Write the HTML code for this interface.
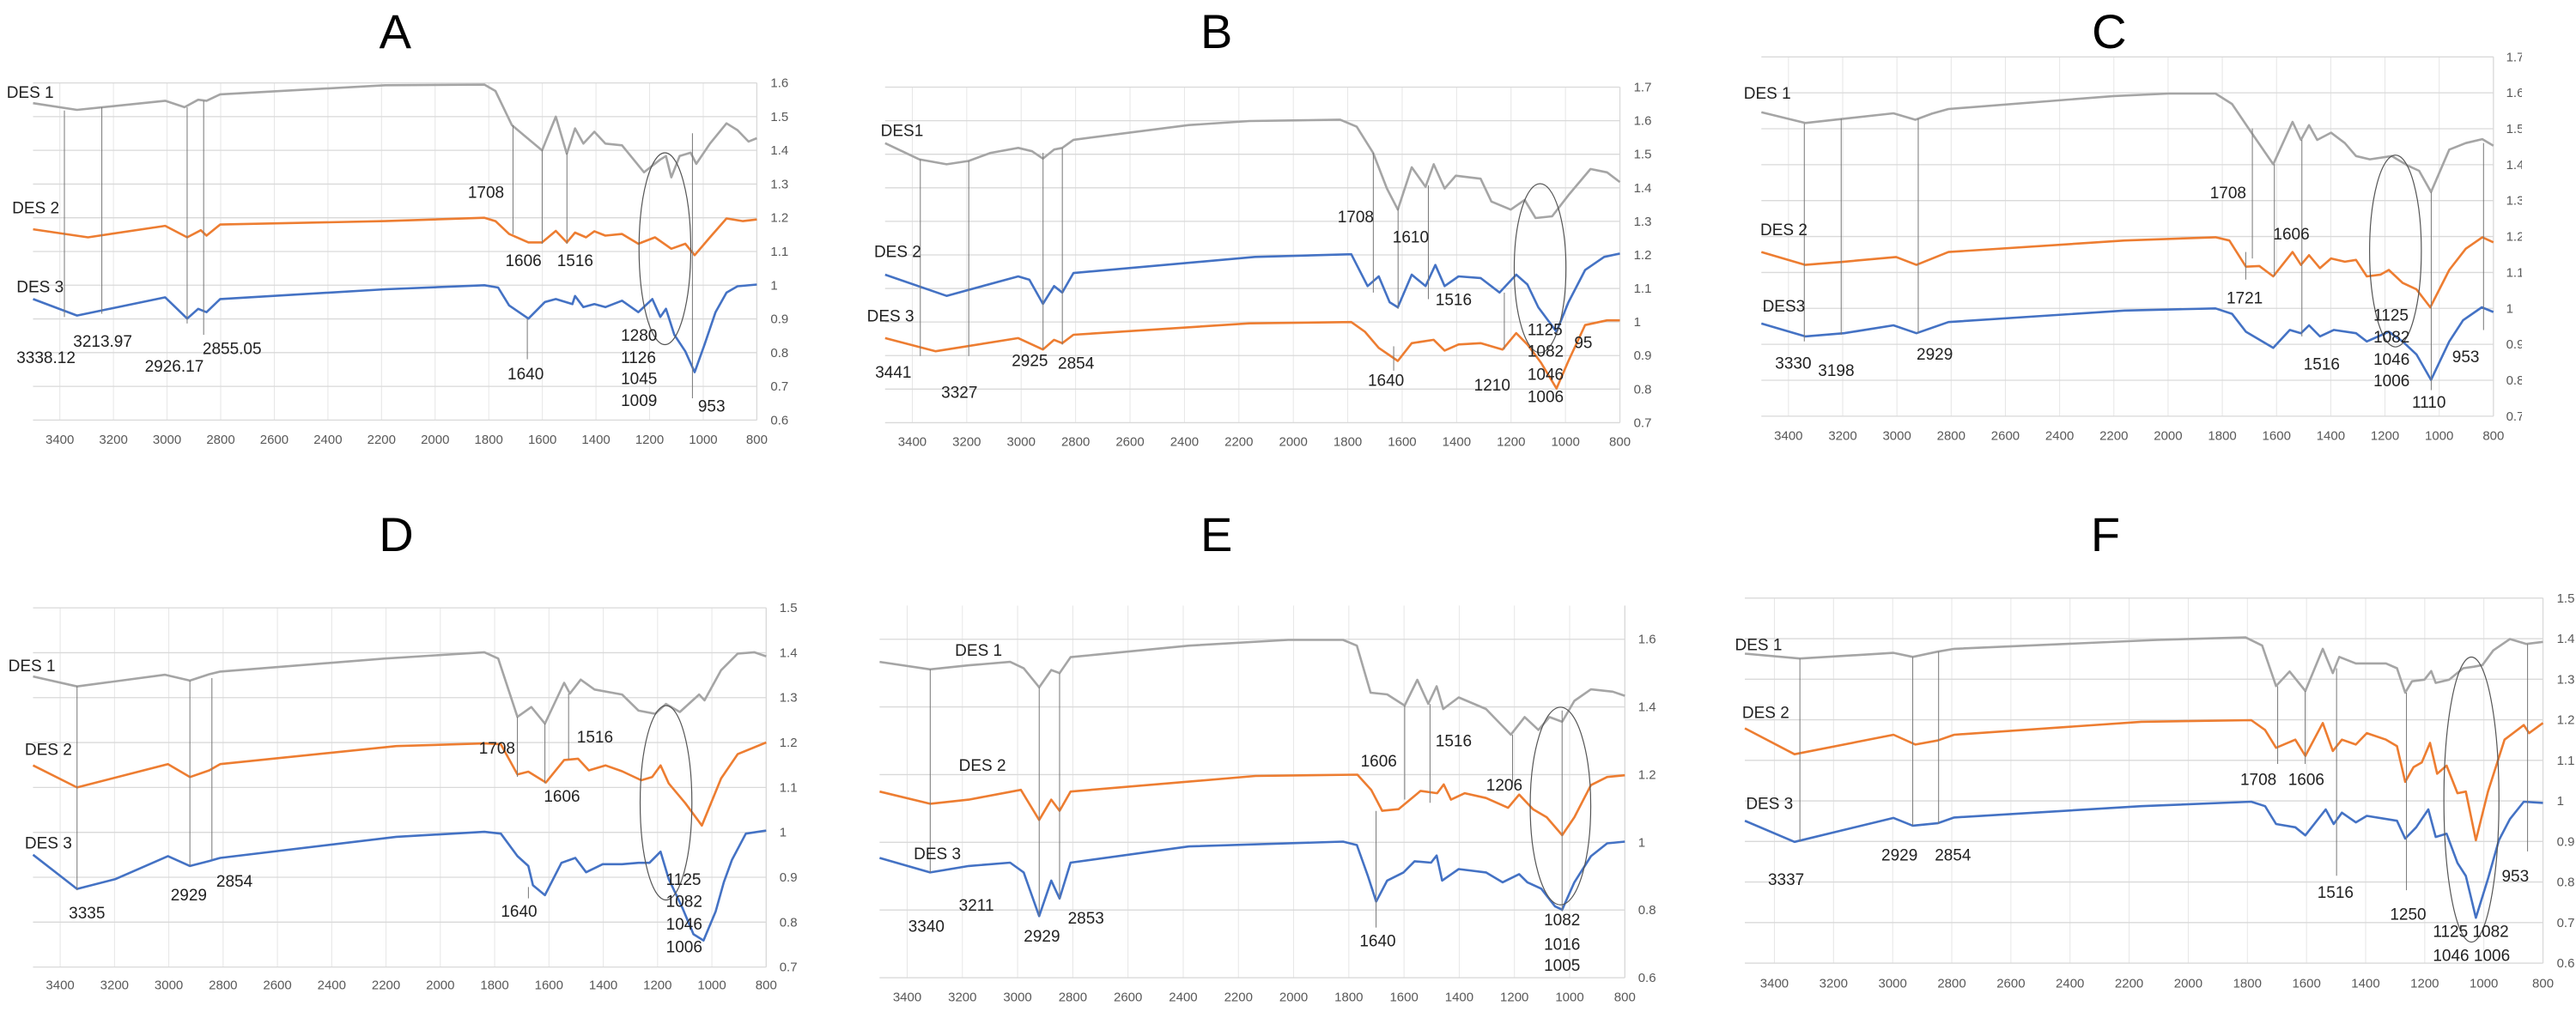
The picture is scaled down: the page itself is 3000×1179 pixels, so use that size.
<!DOCTYPE html>
<html><head><meta charset="utf-8"><style>
html,body{margin:0;padding:0;background:#fff}
svg{display:block}
text{font-family:"Liberation Sans",sans-serif}
</style></head><body>
<svg id="fig" width="3000" height="1179" viewBox="0 0 3000 1179" xmlns="http://www.w3.org/2000/svg">
<defs><clipPath id="clipC"><rect x="2000" y="0" width="937" height="590"/></clipPath></defs>
</svg>
<script>
// ---- Data: [wavenumber (cm-1), absorbance] ----
const panelA_des1=[[3500,1.54],[3336,1.52],[3007,1.547],[2935,1.528],[2884,1.55],[2853,1.547],[2802,1.566],[2186,1.593],[1816,1.595],[1775,1.576],[1714,1.475],[1662,1.44],[1601,1.40],[1550,1.50],[1509,1.39],[1478,1.465],[1447,1.42],[1406,1.455],[1365,1.42],[1303,1.415],[1221,1.335],[1160,1.373],[1139,1.383],[1119,1.32],[1088,1.383],[1047,1.393],[1026,1.36],[975,1.42],[913,1.48],[872,1.46],[831,1.426],[800,1.436]];
const panelA_des2=[[3500,1.166],[3295,1.142],[3007,1.176],[2925,1.142],[2874,1.163],[2853,1.147],[2802,1.18],[2186,1.19],[1816,1.2],[1775,1.19],[1724,1.152],[1652,1.127],[1601,1.127],[1550,1.161],[1509,1.127],[1478,1.156],[1437,1.142],[1406,1.16],[1365,1.147],[1303,1.152],[1242,1.123],[1180,1.142],[1119,1.108],[1067,1.123],[1032,1.089],[975,1.142],[913,1.198],[852,1.19],[800,1.195]];
const panelA_des3=[[3500,0.959],[3336,0.91],[3007,0.964],[2925,0.901],[2884,0.93],[2853,0.92],[2802,0.959],[2186,0.988],[1816,1.0],[1765,0.993],[1724,0.94],[1652,0.901],[1591,0.95],[1550,0.959],[1488,0.944],[1478,0.968],[1447,0.935],[1406,0.944],[1365,0.935],[1303,0.954],[1242,0.92],[1190,0.959],[1160,0.906],[1139,0.93],[1108,0.853],[1067,0.804],[1032,0.742],[995,0.824],[954,0.92],[913,0.978],[872,0.997],[800,1.002]];
const panelB_des1=[[3500,1.533],[3375,1.485],[3274,1.47],[3193,1.48],[3112,1.504],[3011,1.519],[2960,1.509],[2920,1.487],[2879,1.514],[2849,1.519],[2808,1.543],[2384,1.587],[2161,1.599],[1980,1.601],[1828,1.603],[1767,1.582],[1707,1.504],[1656,1.398],[1616,1.335],[1565,1.461],[1514,1.403],[1484,1.47],[1444,1.398],[1403,1.436],[1312,1.427],[1272,1.359],[1201,1.335],[1150,1.364],[1110,1.31],[1049,1.315],[989,1.378],[908,1.456],[847,1.446],[800,1.417]];
const panelB_des2=[[3500,1.141],[3274,1.078],[3011,1.136],[2970,1.126],[2920,1.054],[2879,1.107],[2849,1.088],[2808,1.146],[2141,1.194],[1787,1.202],[1727,1.107],[1686,1.136],[1646,1.059],[1616,1.044],[1565,1.141],[1514,1.107],[1478,1.17],[1444,1.107],[1393,1.136],[1312,1.131],[1242,1.088],[1181,1.141],[1140,1.112],[1100,1.044],[1033,0.971],[989,1.059],[928,1.155],[858,1.194],[800,1.204]];
const panelB_des3=[[3500,0.952],[3314,0.913],[3011,0.952],[2920,0.918],[2879,0.947],[2849,0.937],[2808,0.962],[2161,0.996],[1787,1.0],[1737,0.971],[1686,0.923],[1616,0.884],[1565,0.937],[1484,0.947],[1444,0.915],[1393,0.933],[1312,0.937],[1231,0.918],[1181,0.967],[1140,0.933],[1090,0.879],[1033,0.802],[989,0.884],[928,0.991],[847,1.005],[800,1.005]];
const panelC_des1=[[3500,1.546],[3338,1.516],[3195,1.528],[3013,1.543],[2932,1.525],[2871,1.542],[2810,1.555],[2201,1.591],[1998,1.598],[1825,1.598],[1764,1.569],[1703,1.501],[1612,1.401],[1541,1.519],[1510,1.469],[1480,1.51],[1450,1.469],[1399,1.489],[1348,1.46],[1307,1.424],[1256,1.415],[1175,1.424],[1115,1.397],[1074,1.383],[1030,1.324],[963,1.442],[902,1.46],[841,1.471],[800,1.453]];
const panelC_des2=[[3500,1.157],[3338,1.121],[3195,1.13],[3003,1.143],[2928,1.121],[2810,1.157],[2160,1.189],[1825,1.198],[1774,1.189],[1713,1.116],[1663,1.118],[1612,1.089],[1541,1.157],[1510,1.121],[1480,1.148],[1440,1.112],[1399,1.139],[1348,1.13],[1307,1.135],[1267,1.089],[1216,1.094],[1186,1.107],[1135,1.071],[1084,1.053],[1033,1.003],[963,1.107],[902,1.166],[841,1.198],[800,1.184]];
const panelC_des3=[[3500,0.958],[3338,0.922],[3195,0.931],[3013,0.953],[2928,0.931],[2810,0.962],[2160,0.994],[1825,1.0],[1764,0.985],[1713,0.935],[1612,0.89],[1551,0.94],[1510,0.931],[1480,0.953],[1440,0.922],[1389,0.94],[1307,0.931],[1267,0.908],[1186,0.935],[1135,0.908],[1084,0.872],[1030,0.801],[963,0.908],[912,0.967],[843,1.003],[800,0.99]];
const panelD_des1=[[3500,1.347],[3338,1.325],[3014,1.351],[2922,1.338],[2851,1.352],[2811,1.358],[2203,1.387],[1838,1.401],[1787,1.387],[1716,1.257],[1665,1.279],[1615,1.242],[1544,1.333],[1523,1.309],[1483,1.34],[1432,1.318],[1331,1.307],[1270,1.271],[1209,1.264],[1169,1.286],[1118,1.268],[1047,1.307],[1027,1.294],[966,1.361],[905,1.398],[844,1.401],[800,1.392]];
const panelD_des2=[[3500,1.149],[3338,1.1],[3003,1.152],[2922,1.123],[2851,1.138],[2811,1.152],[2162,1.192],[1838,1.198],[1777,1.196],[1716,1.129],[1676,1.135],[1611,1.111],[1544,1.161],[1493,1.164],[1453,1.138],[1392,1.149],[1331,1.136],[1260,1.116],[1220,1.123],[1189,1.149],[1159,1.109],[1098,1.065],[1037,1.015],[966,1.12],[905,1.174],[800,1.2]];
const panelD_des3=[[3500,0.95],[3338,0.874],[3196,0.896],[3003,0.947],[2922,0.925],[2851,0.936],[2811,0.943],[2162,0.99],[1838,1.001],[1777,0.997],[1716,0.947],[1676,0.925],[1659,0.882],[1615,0.86],[1554,0.932],[1503,0.943],[1463,0.911],[1402,0.929],[1331,0.929],[1270,0.932],[1230,0.932],[1189,0.957],[1159,0.896],[1108,0.831],[1068,0.773],[1031,0.759],[986,0.824],[956,0.889],[926,0.939],[875,0.997],[800,1.004]];
const panelE_des1=[[3500,1.533],[3317,1.511],[3177,1.523],[3027,1.533],[2978,1.514],[2922,1.458],[2878,1.509],[2848,1.5],[2808,1.547],[2379,1.581],[2020,1.598],[1821,1.598],[1771,1.581],[1721,1.442],[1661,1.437],[1598,1.404],[1552,1.48],[1512,1.409],[1482,1.461],[1458,1.394],[1402,1.428],[1303,1.394],[1213,1.318],[1163,1.37],[1113,1.332],[1073,1.37],[1027,1.356],[983,1.418],[923,1.452],[844,1.445],[800,1.433]];
const panelE_des2=[[3500,1.15],[3317,1.114],[3177,1.126],[2988,1.155],[2922,1.066],[2878,1.126],[2848,1.093],[2808,1.15],[2138,1.196],[1769,1.2],[1719,1.155],[1679,1.093],[1620,1.098],[1540,1.152],[1480,1.145],[1456,1.171],[1430,1.126],[1380,1.145],[1303,1.131],[1223,1.102],[1183,1.141],[1133,1.098],[1083,1.074],[1027,1.021],[983,1.074],[923,1.169],[864,1.193],[800,1.198]];
const panelE_des3=[[3500,0.954],[3317,0.911],[3177,0.93],[3027,0.94],[2978,0.911],[2922,0.782],[2878,0.887],[2848,0.834],[2808,0.94],[2379,0.988],[1821,1.002],[1771,0.992],[1731,0.901],[1701,0.825],[1661,0.887],[1602,0.911],[1562,0.944],[1502,0.94],[1482,0.961],[1462,0.887],[1402,0.921],[1303,0.911],[1243,0.882],[1183,0.906],[1153,0.882],[1103,0.863],[1053,0.811],[1027,0.801],[983,0.882],[923,0.959],[864,0.997],[800,1.002]];
const panelF_des1=[[3500,1.363],[3314,1.351],[2997,1.365],[2932,1.355],[2848,1.368],[2792,1.375],[2103,1.397],[1806,1.403],[1750,1.383],[1703,1.283],[1657,1.319],[1604,1.271],[1545,1.375],[1511,1.315],[1489,1.355],[1433,1.339],[1331,1.339],[1294,1.327],[1266,1.267],[1243,1.295],[1201,1.299],[1178,1.32],[1163,1.291],[1117,1.299],[1070,1.327],[1033,1.331],[1005,1.335],[968,1.371],[912,1.399],[856,1.387],[800,1.392]];
const panelF_des2=[[3500,1.179],[3332,1.115],[2997,1.163],[2923,1.139],[2848,1.149],[2792,1.163],[2159,1.195],[1787,1.199],[1740,1.175],[1703,1.131],[1638,1.151],[1604,1.111],[1545,1.192],[1511,1.123],[1480,1.151],[1433,1.139],[1396,1.167],[1331,1.151],[1294,1.135],[1266,1.047],[1238,1.083],[1210,1.095],[1182,1.143],[1158,1.067],[1126,1.087],[1089,1.019],[1061,1.023],[1027,0.903],[986,1.023],[930,1.151],[865,1.187],[847,1.167],[800,1.192]];
const panelF_des3=[[3500,0.951],[3332,0.899],[2997,0.958],[2932,0.939],[2848,0.945],[2792,0.959],[2159,0.987],[1787,0.998],[1740,0.987],[1703,0.943],[1638,0.935],[1604,0.915],[1535,0.979],[1508,0.943],[1480,0.971],[1433,0.947],[1396,0.963],[1294,0.951],[1266,0.907],[1229,0.935],[1188,0.979],[1163,0.911],[1126,0.919],[1089,0.847],[1061,0.815],[1027,0.712],[986,0.808],[949,0.903],[912,0.955],[865,0.998],[800,0.995]];
const xTicks=[3400,3200,3000,2800,2600,2400,2200,2000,1800,1600,1400,1200,1000,800];
const yTicksA=[1.6,1.5,1.4,1.3,1.2,1.1,1,0.9,0.8,0.7,0.6];
const yTicksB=[1.7,1.6,1.5,1.4,1.3,1.2,1.1,1,0.9,0.8,0.7];
const yTicksC=[1.7,1.6,1.5,1.4,1.3,1.2,1.1,1,0.9,0.8,0.7];
const yTicksD=[1.5,1.4,1.3,1.2,1.1,1,0.9,0.8,0.7];
const yTicksE=[1.6,1.4,1.2,1,0.8,0.6];
const yTicksF=[1.5,1.4,1.3,1.2,1.1,1,0.9,0.8,0.7,0.6];
const COLORS={gray:'#a5a5a5',orange:'#ed7d31',blue:'#4472c4'};

// ---- layout (zoom-space coordinates; sx=1.56, sy≈2.64) ----
const panels=[
 {id:'a',title:'A',ox:0,oy:0,sy:2.64,L:60,R:1375,vT:1.6,yT:255,vB:0.6,yB:1292,plotTop:255,tickY:1352,valX:1400,titleX:718,titleY:95,yt:yTicksA,
  series:[[panelA_des1,'gray'],[panelA_des2,'orange'],[panelA_des3,'blue']],
  lines:[[117,340,975],[185,330,965],[340,330,995],[370,310,1030],[932,385,720],[985,460,750],[1030,470,750],[958,980,1105],[1258,410,1225]],
  ell:[1208,765,47,295],
  labels:[['DES 1',12,282],['DES 2',22,637],['DES 3',30,880],['1708',850,590],['1606',918,800],['1516',1012,800],['3213.97',133,1048],['3338.12',30,1098],['2926.17',263,1125],['2855.05',368,1070],['1640',922,1148],['1280',1128,1030],['1126',1128,1098],['1045',1128,1163],['1009',1128,1230],['953',1268,1248]]},
 {id:'b',title:'B',ox:1000,oy:0,sy:2.64,L:48,R:1383,vT:1.7,yT:268,vB:0.7,yB:1300,plotTop:268,tickY:1358,valX:1408,titleX:650,titleY:95,yt:yTicksB,
  series:[[panelB_des1,'gray'],[panelB_des2,'blue'],[panelB_des3,'orange']],
  lines:[[112,490,1095],[200,495,1095],[335,470,1075],[370,455,1060],[935,470,900],[980,640,950],[1035,570,920],[972,1065,1140],[1173,900,1075]],
  ell:[1238,825,47,260],
  labels:[['DES1',40,400],['DES 2',28,772],['DES 3',15,970],['1708',870,665],['1610',970,727],['1516',1048,920],['1125',1215,1012],['1082',1215,1078],['1046',1215,1150],['1006',1215,1218],['95',1300,1052],['3441',30,1143],['3327',150,1205],['2925',278,1108],['2854',362,1115],['1640',925,1168],['1210',1118,1183]]},
 {id:'c',title:'C',ox:2000,oy:0,sy:2.64,L:80,R:1410,vT:1.7,yT:175,vB:0.7,yB:1280,plotTop:175,tickY:1340,valX:1433,titleX:712,titleY:95,yt:yTicksC,clip:true,
  series:[[panelC_des1,'gray'],[panelC_des2,'orange'],[panelC_des3,'blue']],
  lines:[[158,380,1050],[225,365,1030],[365,365,1025],[972,395,795],[960,775,860],[1012,505,850],[1062,430,1035],[1297,590,1200],[1392,440,1015]],
  ell:[1232,772,47,295],
  labels:[['DES 1',48,285],['DES 2',78,705],['DES3',82,940],['1708',895,592],['1606',1010,718],['1721',925,915],['3330',105,1115],['3198',183,1138],['2929',362,1088],['1516',1065,1118],['1125',1192,968],['1082',1192,1035],['1046',1192,1103],['1006',1192,1170],['1110',1262,1235],['953',1335,1095]]},
 {id:'d',title:'D',ox:0,oy:590,sy:2.65,L:60,R:1392,vT:1.5,yT:313,vB:0.7,yB:1422,plotTop:313,tickY:1478,valX:1416,titleX:720,titleY:85,yt:yTicksD,
  series:[[panelD_des1,'gray'],[panelD_des2,'orange'],[panelD_des3,'blue']],
  lines:[[140,555,1185],[345,538,1110],[385,530,1090],[940,650,835],[990,670,855],[1033,578,780],[960,1175,1210]],
  ell:[1210,915,47,300],
  labels:[['DES 1',15,490],['DES 2',45,748],['DES 3',45,1037],['1708',870,745],['1516',1048,710],['1606',988,893],['3335',125,1253],['2929',310,1198],['2854',393,1155],['1640',910,1248],['1125',1210,1150],['1082',1210,1218],['1046',1210,1288],['1006',1210,1358]]},
 {id:'e',title:'E',ox:1000,oy:590,sy:2.65,L:38,R:1392,vT:1.6,yT:410,vB:0.6,yB:1455,plotTop:306,tickY:1515,valX:1416,titleX:650,titleY:85,yt:yTicksE,
  series:[[panelE_des1,'gray'],[panelE_des2,'orange'],[panelE_des3,'blue']],
  lines:[[130,503,1130],[328,558,1265],[365,515,1210],[992,615,905],[1038,610,915],[1188,705,855],[940,940,1300],[1278,630,1250]],
  ell:[1275,925,55,305],
  labels:[['DES 1',175,443],['DES 2',182,797],['DES 3',100,1070],['1516',1048,722],['1606',912,785],['1206',1140,858],['3211',182,1230],['3340',90,1295],['2929',300,1325],['2853',380,1270],['1640',910,1340],['1082',1245,1275],['1016',1245,1350],['1005',1245,1415]]},
 {id:'f',title:'F',ox:2000,oy:590,sy:2.65,L:50,R:1500,vT:1.5,yT:283,vB:0.6,yB:1410,plotTop:283,tickY:1472,valX:1525,titleX:705,titleY:85,yt:yTicksF,
  series:[[panelF_des1,'gray'],[panelF_des2,'orange'],[panelF_des3,'blue']],
  lines:[[150,470,1035],[355,465,985],[402,448,980],[1018,555,795],[1068,570,795],[1125,500,1140],[1252,575,1185],[1472,425,1065]],
  ell:[1370,905,50,440],
  labels:[['DES 1',32,425],['DES 2',45,635],['DES 3',52,915],['1708',950,842],['1606',1037,842],['3337',92,1150],['2929',298,1075],['2854',395,1075],['1516',1090,1190],['1250',1222,1258],['953',1425,1140],['1125 1082',1300,1310],['1046 1006',1300,1385]]}
];
const NS='http://www.w3.org/2000/svg';
const svg=document.getElementById('fig');
function mk(tag,attrs,parent){const e=document.createElementNS(NS,tag);for(const k in attrs)e.setAttribute(k,attrs[k]);parent.appendChild(e);return e;}
const SX=1.56;
panels.forEach(p=>{
  const g=mk('g',{},svg);
  
  
  const X=z=>p.ox+z/SX, Y=z=>p.oy+z/p.sy;
  const xs=wn=>X(p.L+(3500-wn)/2700*(p.R-p.L));
  const ys=v=>Y(p.yT+(p.vT-v)/(p.vT-p.vB)*(p.yB-p.yT));
  const top=Y(p.plotTop), bot=ys(p.vB);
  // title
  const t=mk('text',{x:X(p.titleX),y:Y(p.titleY)+20,'text-anchor':'middle','font-size':56,fill:'#000'},g);
  t.textContent=p.title;
  
  
  // grid
  xTicks.forEach(w=>{const l=mk('line',{x1:xs(w),x2:xs(w),y1:top,y2:bot,stroke:'#e6e6e6','stroke-width':1},g);
    
    });
  const gy=mk('g',p.clip?{'clip-path':'url(#clipC)'}:{},g);
  p.yt.forEach(v=>{const l=mk('line',{x1:X(p.L),x2:X(p.R),y1:ys(v),y2:ys(v),stroke:'#d9d9d9','stroke-width':1.3},g);
    
    
    const tx=mk('text',{x:X(p.valX),y:ys(v)+5,'font-size':15,fill:'#595959'},gy);tx.textContent=String(v);
    
    });
  const rl=mk('line',{x1:X(p.R),x2:X(p.R),y1:top,y2:bot,stroke:'#d9d9d9','stroke-width':1.3},g);
  
  
  xTicks.forEach(w=>{const tx=mk('text',{x:xs(w),y:Y(p.tickY)+5,'text-anchor':'middle','font-size':15,fill:'#595959'},g);tx.textContent=String(w);
    
    });
  // series
  p.series.forEach((s,i)=>{const d=s[0].map((pt,j)=>(j?'L':'M')+xs(pt[0]).toFixed(1)+' '+ys(pt[1]).toFixed(1)).join(' ');
    const path=mk('path',{d:d,fill:'none',stroke:COLORS[s[1]],'stroke-width':2.6,'stroke-linejoin':'round'},g);
    
    });
  // annotations
  p.lines.forEach(a=>{const l=mk('line',{x1:X(a[0]),x2:X(a[0]),y1:Y(a[1]),y2:Y(a[2]),stroke:'#777','stroke-width':1},g);
    
    });
  const e=p.ell;const el=mk('ellipse',{cx:X(e[0]),cy:Y(e[1]),rx:e[2]/SX,ry:e[3]/p.sy,fill:'none',stroke:'#555','stroke-width':1.2},g);
  
  
  p.labels.forEach(lb=>{const tx=mk('text',{x:X(lb[1]),y:Y(lb[2])+7,'font-size':19,fill:'#222'},g);tx.textContent=lb[0];
    
    });
});
</script>
</body></html>
